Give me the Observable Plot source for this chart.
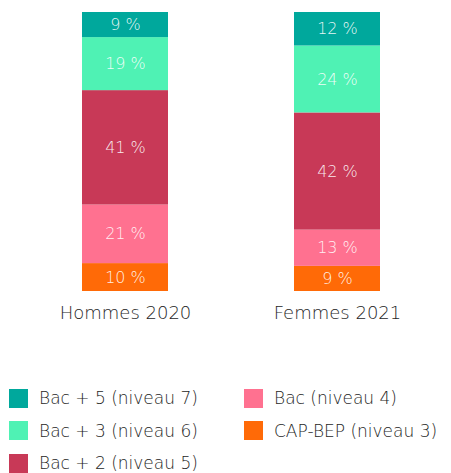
<!DOCTYPE html>
<html>
<head>
<meta charset="utf-8">
<script src="https://cdn.jsdelivr.net/npm/d3@7"></script>
<script src="https://cdn.jsdelivr.net/npm/@observablehq/plot@0.6"></script>
<style>
  body { margin: 0; background: #fff; font-family: "DejaVu Sans", sans-serif; }
  #chart svg { display: block; }
  .legend { display: grid; grid-auto-flow: column; grid-template-rows: repeat(3, 32.5px); grid-template-columns: 235px 205px; padding: 0 0 0 9px; margin-top: 42px; }
  .item { display: flex; align-items: center; font-size: 17px; font-weight: 300; color: #1e1e1e; white-space: nowrap; }
  .sw { width: 19px; height: 19px; margin-right: 11px; flex: none; }
</style>
</head>
<body>
<div id="chart"></div>
<div id="legend" class="legend"></div>
<script>
const groups = ["Hommes 2020", "Femmes 2021"];
const levels = ["CAP-BEP (niveau 3)", "Bac (niveau 4)", "Bac + 2 (niveau 5)", "Bac + 3 (niveau 6)", "Bac + 5 (niveau 7)"];
const hommes = [10, 21, 41, 19, 9];
const femmes = [9, 13, 42, 24, 12];
const colors = ["#ff6a07", "#ff7190", "#c83957", "#4ff2b4", "#00a89c"];
const legendOrder = ["Bac + 5 (niveau 7)", "Bac + 3 (niveau 6)", "Bac + 2 (niveau 5)", "Bac (niveau 4)", "CAP-BEP (niveau 3)"];

const data = [];
levels.forEach((l, i) => {
  data.push({group: groups[0], level: l, value: hommes[i]});
  data.push({group: groups[1], level: l, value: femmes[i]});
});

const chart = Plot.plot({
  width: 451,
  height: 340,
  marginTop: 12,
  marginBottom: 49,
  marginLeft: 81,
  marginRight: 71,
  style: {fontFamily: "DejaVu Sans, sans-serif", background: "#fff", fontWeight: 300},
  x: {domain: groups, paddingInner: 0.596, paddingOuter: 0, label: null},
  y: {domain: [0, 100], axis: null},
  color: {domain: levels, range: colors},
  marks: [
    Plot.barY(data, Plot.stackY({x: "group", y: "value", fill: "level", order: levels})),
    Plot.text(data, Plot.stackY({x: "group", y: "value", z: "level", order: levels, text: d => d.value + " %", fill: "#fff", fillOpacity: 0.9, fontSize: 16, fontWeight: 300})),
    Plot.axisX({tickSize: 0, tickPadding: 15, fontSize: 18, color: "#1e1e1e", label: null})
  ]
});
document.getElementById("chart").appendChild(chart);

const leg = document.getElementById("legend");
legendOrder.forEach(l => {
  const it = document.createElement("div");
  it.className = "item";
  const sw = document.createElement("span");
  sw.className = "sw";
  sw.style.background = colors[levels.indexOf(l)];
  it.appendChild(sw);
  it.appendChild(document.createTextNode(l));
  leg.appendChild(it);
});
</script>
</body>
</html>
